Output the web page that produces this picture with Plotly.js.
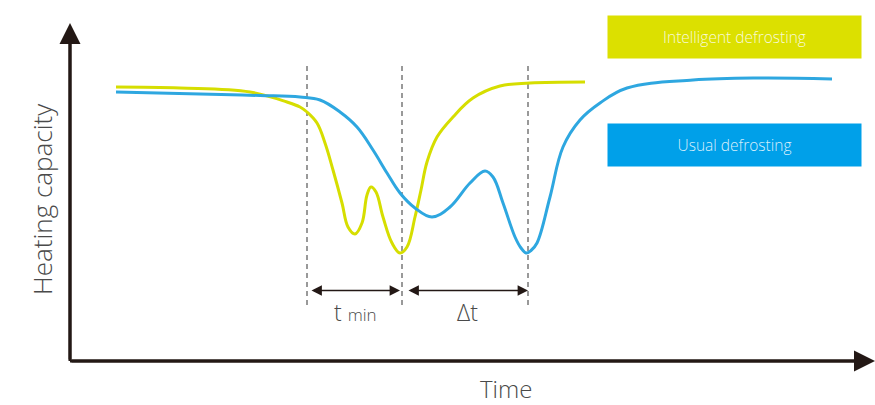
<!DOCTYPE html>
<html>
<head>
<meta charset="utf-8">
<script src="https://cdn.plot.ly/plotly-3.0.1.min.js"></script>
<style>html,body{margin:0;padding:0;background:#fff;}#chart{width:875px;height:405px;}</style>
</head>
<body>
<div id="chart"></div>
<script>
// Schematic units: time from the origin (left), heating capacity from the baseline (up)
const intelligentTime = [46,110,180,217,230,237,247,255,263,272,278,285,292,297,301,306,313,322,330,337,345,351,357,367,383,403,430,460,515];
const intelligentCap  = [274,273,269,259,254,249,238,218,191,158,134,127,138,166,174,169,144,118,108,114,144,171,199,224,244,263,275,278,279];

const usualTime = [46,130,190,230,250,270,287,303,317,330,345,362,380,400,415,423,433,445,451,456,461,467,480,493,510,530,557,623,690,762];
const usualCap  = [269,267,265.5,264,261,249,234,211,188,168,153,144,154,178,190,184,158,124,113,108,110.5,118,164,214,241,258,273,281,283,282];

const markerTimes = [237, 332, 458];   // dashed reference lines
const markerTop = 296, markerBottom = 56;
const spanLabels = ["t <span style='font-size:17px'>min</span>", "Δt"];
const spanStart = [240, 337];
const spanEnd = [330, 458];
const spanCap = 70.5;
const legendNames = ["Intelligent defrosting", "Usual defrosting"];
const legendColors = ["#DCE000", "#00A0E9"];
const lineColors = ["#D6DE00", "#2EA7E0"];
const xAxisLabel = "Time";
const yAxisLabel = "Heating capacity";

const FONT = "'Open Sans', Lato, 'DejaVu Sans', sans-serif";

const traces = [];
markerTimes.forEach(t => {
  traces.push({x:[t,t], y:[markerBottom, markerTop], mode:'lines', hoverinfo:'skip',
    line:{color:'#808080', width:1.6, dash:'5px,4px'}, showlegend:false});
});
traces.push({x:intelligentTime, y:intelligentCap, mode:'lines', name:legendNames[0],
  line:{color:lineColors[0], width:3, shape:'spline', smoothing:1.1}, showlegend:false});
traces.push({x:usualTime, y:usualCap, mode:'lines', name:legendNames[1],
  line:{color:lineColors[1], width:3, shape:'spline', smoothing:1.1}, showlegend:false});

const annotations = [];
// axes arrows
annotations.push({x:805, y:0, ax:0, ay:0, xref:'x', yref:'y', axref:'x', ayref:'y', text:'',
  showarrow:true, arrowhead:2, arrowsize:1.4, arrowwidth:3, arrowcolor:'#231815'});
annotations.push({x:0, y:338, ax:0, ay:0, xref:'x', yref:'y', axref:'x', ayref:'y', text:'',
  showarrow:true, arrowhead:2, arrowsize:1.4, arrowwidth:3, arrowcolor:'#231815'});
// span arrows
for (let i = 0; i < spanStart.length; i++) {
  annotations.push({x:spanEnd[i], y:spanCap, ax:spanStart[i], ay:spanCap, xref:'x', yref:'y', axref:'x', ayref:'y',
    text:'', showarrow:true, arrowhead:2, startarrowhead:2, arrowside:'end+start', arrowsize:1.3, startarrowsize:1.3,
    arrowwidth:1.6, arrowcolor:'#231815'});
  annotations.push({x:(spanStart[i]+spanEnd[i])/2, y:spanCap-21, xref:'x', yref:'y', text:spanLabels[i],
    showarrow:false, font:{family:FONT, size:23, color:'#4a4a4a', weight:300}});
}
// axis labels
annotations.push({x:436, y:-27, xref:'x', yref:'y', text:xAxisLabel, showarrow:false,
  font:{family:FONT, size:24, color:'#4a4a4a', weight:300}});
annotations.push({x:-28, y:161, xref:'x', yref:'y', text:yAxisLabel, showarrow:false, textangle:-90,
  font:{family:FONT, size:26, color:'#4a4a4a', weight:300}});
// legend boxes
const legendCenterCap = [324, 216];
for (let i = 0; i < legendNames.length; i++) {
  annotations.push({x:664.5, y:legendCenterCap[i], xref:'x', yref:'y', text:legendNames[i], showarrow:false,
    width:253, height:42, bgcolor:legendColors[i], borderpad:0, align:'center', valign:'middle',
    font:{family:FONT, size:15.5, color:'rgba(255,255,255,0.85)', weight:300}});
}

const layout = {
  width:875, height:405,
  margin:{l:0, r:0, t:0, b:0},
  paper_bgcolor:'#ffffff', plot_bgcolor:'#ffffff',
  xaxis:{range:[-70, 805], visible:false, fixedrange:true},
  yaxis:{range:[-44, 361], visible:false, fixedrange:true},
  shapes:[
    {type:'line', xref:'x', yref:'y', x0:0, y0:0, x1:790, y1:0, line:{color:'#231815', width:3}},
    {type:'line', xref:'x', yref:'y', x0:0, y0:0, x1:0, y1:325, line:{color:'#231815', width:3}}
  ],
  annotations:annotations,
  showlegend:false
};

Plotly.newPlot('chart', traces, layout, {staticPlot:true, displayModeBar:false});
</script>
</body>
</html>
